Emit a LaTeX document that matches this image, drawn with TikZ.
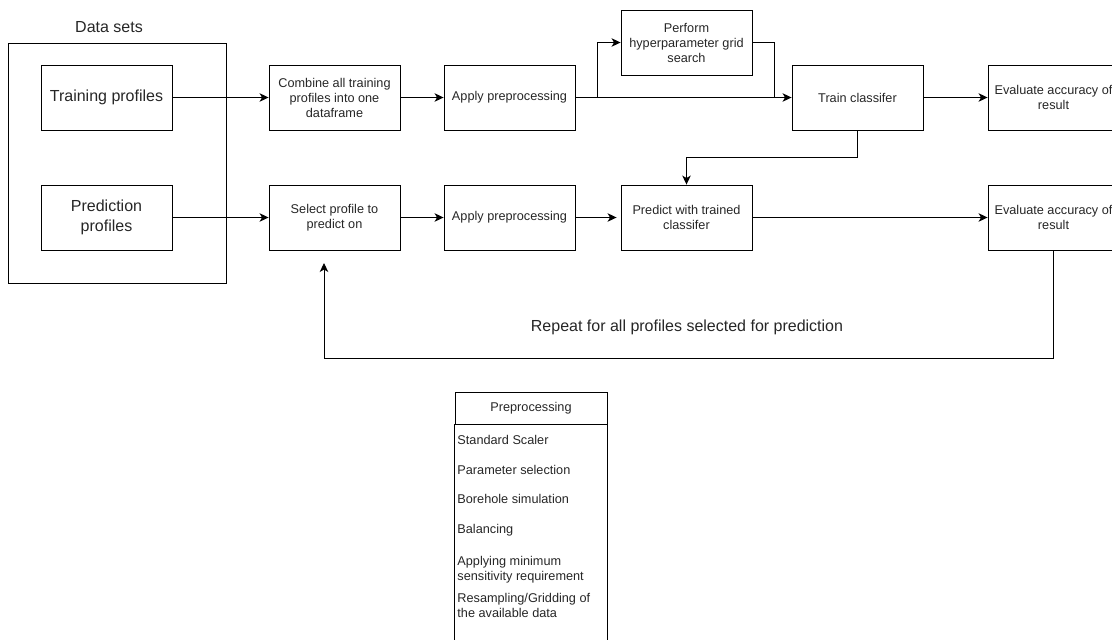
\documentclass[tikz,border=0pt]{standalone}
\usepackage{fontspec}
\setmainfont{Liberation Sans}
\usetikzlibrary{arrows.meta}

\begin{document}
\begin{tikzpicture}[x=1pt,y=-1pt,line width=0.9pt,
	box/.style={draw,rectangle,minimum width=131pt,minimum height=65pt,inner sep=0pt,align=center,text=black!85,font=\fontsize{12.7}{15}\selectfont},
	bigbox/.style={box,font=\fontsize{16}{19.5}\selectfont},
	flow/.style={-{Stealth[length=9pt,width=8.5pt,inset=2.5pt]}},
	item/.style={anchor=west,align=left,inner sep=0pt,text=black!85,font=\fontsize{12.7}{15}\selectfont}]
	\useasboundingbox (0,0) rectangle (1112,640);
	\node[draw,minimum width=218pt,minimum height=240pt] (datasets) at (117,163) {};
	\node[text=black!85,font=\fontsize{16}{19.5}\selectfont] (datalabel) at (109,27) {Data sets};
	\node[bigbox] (trainprof) at (106.5,97.5) {Training profiles};
	\node[bigbox] (predprof) at (106.5,217.5) {Prediction\\profiles};
	\node[box] (combine) at (334.5,97.5) {Combine all training\\profiles into one\\dataframe};
	\node[box] (select) at (334.5,217.5) {Select profile to\\predict on};
	\node[box] (prep1) at (509.5,97.5) {Apply preprocessing};
	\node[box] (prep2) at (509.5,217.5) {Apply preprocessing};
	\node[box] (grid) at (686.5,42.5) {Perform\\hyperparameter grid\\search};
	\node[box] (predict) at (686.5,217.5) {Predict with trained\\classifer};
	\node[box] (trainclf) at (857.5,97.5) {Train classifer};
	\node[box] (eval1) at (1053.5,97.5) {Evaluate accuracy of\\result};
	\node[box] (eval2) at (1053.5,217.5) {Evaluate accuracy of\\result};
	\coordinate (split) at (597,97.5);
	\coordinate (merge) at (774,97.5);
	\coordinate (back) at (857.5,157);
	\coordinate (loopbottom) at (324,358);
	\coordinate (loopend) at (324,263);
	\draw[flow] (trainprof) -- (combine);
	\draw[flow] (combine) -- (prep1);
	\draw[flow] (prep1) -- (trainclf);
	\draw[flow] (split) |- (grid.west);
	\draw (grid.east) -| (merge);
	\draw[flow] (trainclf) -- (eval1);
	\draw[flow] (trainclf.south) -- (back) -| (predict.north);
	\draw[flow] (predprof) -- (select);
	\draw[flow] (select) -- (prep2);
	\draw[flow,shorten >=4pt] (prep2) -- (predict);
	\draw[flow] (predict) -- (eval2);
	\draw[flow] (eval2.south) |- (loopbottom) -- (loopend);
	\node[text=black!85,font=\fontsize{16}{19.5}\selectfont] (repeat) at (687,327) {Repeat for all profiles selected for prediction};
	\node[draw,minimum width=152pt,minimum height=32pt,inner sep=0pt,text=black!85,font=\fontsize{12.7}{15}\selectfont] (prephead) at (531,408) {Preprocessing};
	\draw (prephead.south west) -- ++(0,240);
	\draw (prephead.south east) -- ++(0,240);
	\node[item] (scaler) at (457,440) {Standard Scaler};
	\node[item] (params) at (457,470) {Parameter selection};
	\node[item] (borehole) at (457,499) {Borehole simulation};
	\node[item] (balance) at (457,530) {Balancing};
	\node[item] (sensitivity) at (457,569.5) {Applying minimum\\sensitivity requirement};
	\node[item] (resample) at (457,605.5) {Resampling/Gridding of\\the available data};
\end{tikzpicture}
\end{document}
